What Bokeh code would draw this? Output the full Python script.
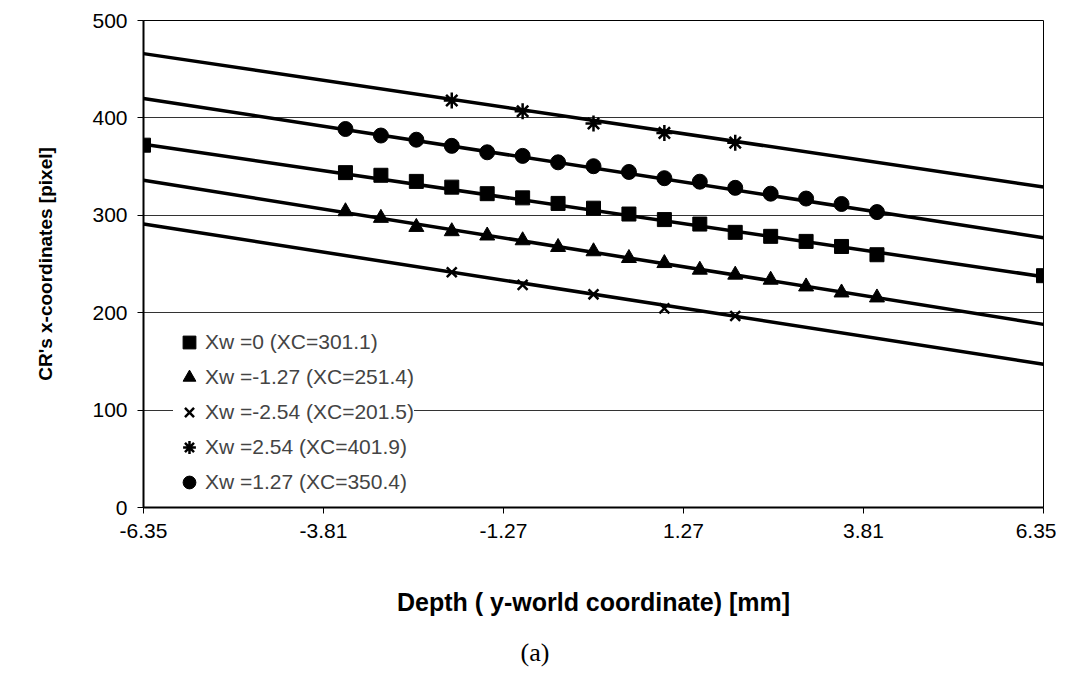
from bokeh.plotting import figure
from bokeh.models import Range1d, FixedTicker, Legend, LegendItem, Div
from bokeh.layouts import column
from bokeh.embed import file_html
from bokeh.resources import INLINE

# ---- data ----
depth_ticks = [-6.35, -3.81, -1.27, 1.27, 3.81, 6.35]
y_ticks = [0, 100, 200, 300, 400, 500]

depth_fine = [-3.5, -3.0, -2.5, -2.0, -1.5, -1.0, -0.5, 0.0,
              0.5, 1.0, 1.5, 2.0, 2.5, 3.0, 3.5, 4.0]
depth_coarse = [-2.0, -1.0, 0.0, 1.0, 2.0]
depth_sq = [-6.35] + depth_fine + [6.35]

xw_0 = [372, 343.8, 341.1, 334.8, 328.9, 322.2, 317.9, 312.2, 307.3,
        301.3, 295.6, 291.0, 282.5, 278.4, 273.2, 268.0, 259.5, 238]
xw_m127 = [304, 297.2, 287.9, 283.5, 279.1, 274.2, 267.3, 262.9,
           256.0, 250.8, 244.0, 238.9, 233.7, 226.8, 220.6, 215.5]
xw_m254 = [241.5, 228.6, 218.9, 204.4, 196.6]
xw_p254 = [417.8, 406.9, 394.2, 384.6, 374.6]
xw_p127 = [388.6, 381.9, 377.6, 371.3, 364.7, 361.0, 354.4, 350.4,
           344.5, 338.1, 334.5, 328.2, 322.2, 317.2, 311.6, 303.3]

# trend lines: values read at both ends of the depth axis
fit_x = [-6.35, 6.35]
fit_0 = [373, 237]
fit_m127 = [336, 188]
fit_m254 = [291, 147]
fit_p254 = [466, 329]
fit_p127 = [420, 277]

labels = ["Xw =0 (XC=301.1)", "Xw =-1.27 (XC=251.4)", "Xw =-2.54 (XC=201.5)",
          "Xw =2.54 (XC=401.9)", "Xw =1.27 (XC=350.4)"]
caption = "(a)"

FONT = "Liberation Sans"

p = figure(width=1056, height=632, output_backend="svg", toolbar_location=None,
           x_range=Range1d(-6.35, 6.35), y_range=Range1d(0, 500),
           min_border_left=143, min_border_right=13, min_border_top=20,
           min_border_bottom=125)
p.background_fill_color = "white"
p.border_fill_color = "white"
p.outline_line_color = "black"
p.outline_line_width = 1

# grid
p.xgrid.visible = False
p.ygrid.ticker = FixedTicker(ticks=[100, 200, 300, 400])
p.ygrid.grid_line_color = "black"
p.ygrid.grid_line_width = 1
p.ygrid.grid_line_alpha = 0.8

# axes
p.xaxis.ticker = FixedTicker(ticks=depth_ticks)
p.xaxis.major_label_overrides = {t: f"{t:.2f}" for t in depth_ticks}
p.yaxis.ticker = FixedTicker(ticks=y_ticks)
for ax in (p.xaxis[0], p.yaxis[0]):
    ax.axis_line_color = "black"
    ax.axis_line_width = 2
    ax.major_tick_line_color = "black"
    ax.major_tick_line_width = 1
    ax.major_tick_in = 0
    ax.major_tick_out = 6
    ax.minor_tick_line_color = None
    ax.major_label_text_font = FONT
    ax.major_label_text_font_size = "21px"
    ax.major_label_text_color = "black"
    ax.axis_label_text_font = FONT
    ax.axis_label_text_font_style = "bold"
    ax.axis_label_text_color = "black"
p.xaxis.axis_label_text_font_size = "25px"
p.yaxis.axis_label_text_font_size = "19px"
p.xaxis.major_label_standoff = 10
p.yaxis.major_label_standoff = 10
p.xaxis.axis_label = "Depth ( y-world coordinate) [mm]"
p.yaxis.axis_label = "CR's x-coordinates [pixel]"
p.xaxis.axis_label_standoff = 47
p.yaxis.axis_label_standoff = 33

# trend lines
for ys in (fit_p254, fit_p127, fit_0, fit_m127, fit_m254):
    p.line(fit_x, ys, line_color="black", line_width=3.5)

# markers
r_sq = p.scatter(depth_sq, xw_0, marker="square", size=14,
                 fill_color="black", line_color="black")
r_tr = p.scatter(depth_fine, xw_m127, marker="triangle", size=15,
                 fill_color="black", line_color="black")
r_x = p.scatter(depth_coarse, xw_m254, marker="x", size=14,
                line_color="black", line_width=2.5)
r_as = p.scatter(depth_coarse, xw_p254, marker="asterisk", size=16,
                 line_color="black", line_width=2.5)
r_ci = p.scatter(depth_fine, xw_p127, marker="circle", size=15,
                 fill_color="black", line_color="black")

legend = Legend(items=[LegendItem(label=labels[0], renderers=[r_sq]),
                       LegendItem(label=labels[1], renderers=[r_tr]),
                       LegendItem(label=labels[2], renderers=[r_x]),
                       LegendItem(label=labels[3], renderers=[r_as]),
                       LegendItem(label=labels[4], renderers=[r_ci])],
                location=(30, 9), margin=0, padding=5,
                spacing=3, glyph_width=32, glyph_height=32,
                label_height=32, label_standoff=0,
                label_text_font=FONT, label_text_font_size="21px",
                border_line_color=None, background_fill_color="white",
                background_fill_alpha=1.0)
p.add_layout(legend, "center")

cap = Div(text=caption, width=1056, height=38,
          styles={"text-align": "center", "font-family": "Liberation Serif",
                  "font-size": "26px", "line-height": "30px",
                  "padding-left": "4px", "padding-top": "1px",
                  "color": "black", "box-sizing": "border-box"})

layout = column(p, cap, spacing=0)
open("out.html", "w").write(file_html(layout, INLINE))
